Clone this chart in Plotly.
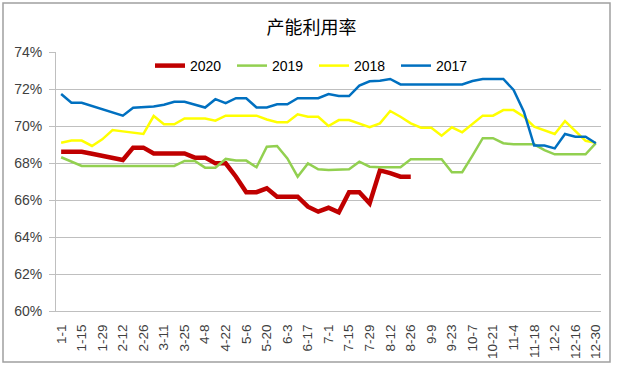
import plotly.graph_objects as go

dates = ["1-1", "1-8", "1-15", "1-22", "1-29", "2-5", "2-12", "2-19", "2-26", "3-4",
         "3-11", "3-18", "3-25", "4-1", "4-8", "4-15", "4-22", "4-29", "5-6", "5-13",
         "5-20", "5-27", "6-3", "6-10", "6-17", "6-24", "7-1", "7-8", "7-15", "7-22",
         "7-29", "8-5", "8-12", "8-19", "8-26", "9-2", "9-9", "9-16", "9-23", "9-30",
         "10-7", "10-14", "10-21", "10-28", "11-4", "11-11", "11-18", "11-25", "12-2", "12-9",
         "12-16", "12-23", "12-30"]

y2020 = [68.61, 68.61, 68.61, 68.50, 68.39, 68.27, 68.16, 68.83, 68.83, 68.52,
         68.52, 68.52, 68.52, 68.29, 68.29, 67.98, 67.98, 67.26, 66.42, 66.42,
         66.63, 66.18, 66.18, 66.18, 65.64, 65.37, 65.58, 65.33, 66.42, 66.42,
         65.82, 67.60, 67.45, 67.26, 67.26] + [None] * 18

y2019 = [68.31, 68.07, 67.84, 67.84, 67.84, 67.84, 67.84, 67.84, 67.84, 67.84,
         67.84, 67.84, 68.11, 68.11, 67.75, 67.75, 68.22, 68.13, 68.13, 67.77,
         68.88, 68.92, 68.25, 67.26, 67.98, 67.66, 67.62, 67.62, 67.66, 68.07,
         67.80, 67.77, 67.77, 67.77, 68.20, 68.20, 68.20, 68.20, 67.50, 67.50,
         68.40, 69.34, 69.34, 69.07, 69.01, 69.01, 69.01, 68.70, 68.47, 68.47,
         68.47, 68.47, 69.07]

y2018 = [69.10, 69.21, 69.21, 68.92, 69.28, 69.78, 69.71, 69.64, 69.57, 70.54,
         70.09, 70.09, 70.41, 70.41, 70.41, 70.29, 70.56, 70.56, 70.56, 70.56,
         70.35, 70.20, 70.20, 70.63, 70.50, 70.50, 70.00, 70.32, 70.32, 70.14,
         69.93, 70.14, 70.81, 70.50, 70.14, 69.91, 69.91, 69.48, 69.93, 69.66,
         70.10, 70.56, 70.56, 70.86, 70.86, 70.50, 69.96, 69.75, 69.57, 70.27,
         69.73, 69.20, 69.10]

y2017 = [71.73, 71.26, 71.26, 71.09, 70.92, 70.74, 70.56, 70.99, 71.02, 71.05,
         71.15, 71.31, 71.31, 71.15, 71.00, 71.45, 71.23, 71.50, 71.50, 71.00,
         71.00, 71.17, 71.17, 71.50, 71.50, 71.50, 71.73, 71.62, 71.62, 72.18,
         72.42, 72.45, 72.54, 72.25, 72.25, 72.25, 72.25, 72.25, 72.25, 72.25,
         72.43, 72.54, 72.54, 72.54, 71.95, 70.77, 68.94, 68.94, 68.79, 69.57,
         69.42, 69.42, 69.07]

tick_labels = dates[::2]
y_ticks = [60, 62, 64, 66, 68, 70, 72, 74]
y_tick_text = ["60%", "62%", "64%", "66%", "68%", "70%", "72%", "74%"]

series = [("2020", y2020, "#C00000", 4.5),
          ("2019", y2019, "#92D050", 2.5),
          ("2018", y2018, "#FFFF00", 2.5),
          ("2017", y2017, "#0070C0", 2.5)]

fig = go.Figure()
for name, vals, color, w in series:
    fig.add_trace(go.Scatter(x=dates, y=vals, name=name, mode="lines",
                             line=dict(color=color, width=w),
                             connectgaps=False))

W, H = 623, 375
L, R, T, B = 56, 22, 52, 64
pw, ph = W - L - R, H - T - B

def px_x(x):
    return (x - L) / pw

def px_y(y):
    return (H - B - y) / ph

fig.update_layout(
    width=W, height=H,
    margin=dict(l=L, r=R, t=T, b=B),
    paper_bgcolor="white", plot_bgcolor="white",
    font=dict(family="Liberation Sans, Arial, sans-serif", size=11, color="#404040"),
    title=dict(text="产能利用率", x=0.5, xanchor="center", y=1 - 27.5 / H, yanchor="middle",
               font=dict(family="Noto Sans CJK SC", size=18, color="#000000")),
    showlegend=True,
    legend=dict(orientation="h", x=px_x(150), xanchor="left", y=px_y(66), yanchor="middle",
                font=dict(size=14, color="#000000"), bgcolor="rgba(0,0,0,0)",
                entrywidth=37, entrywidthmode="pixels", tracegroupgap=0),
    xaxis=dict(type="category", categoryorder="array", categoryarray=dates,
               range=[-0.5, len(dates) - 0.5],
               tickmode="array", tickvals=tick_labels, ticktext=tick_labels,
               tickangle=-90, showgrid=False, showline=True, linecolor="#BFBFBF",
               linewidth=1, ticks="", ticklabelstandoff=7,
               tickfont=dict(size=13.5, color="#404040"), zeroline=False),
    yaxis=dict(range=[60, 74], tickmode="array", tickvals=y_ticks, ticktext=y_tick_text,
               showgrid=True, gridcolor="#BFBFBF", gridwidth=1,
               showline=True, linecolor="#BFBFBF", linewidth=1,
               ticks="outside", ticklen=6, tickcolor="#BFBFBF", ticklabelstandoff=4,
               tickfont=dict(size=14, color="#404040"), zeroline=False),
    shapes=[dict(type="rect", xref="paper", yref="paper",
                 x0=px_x(3), x1=px_x(610), y0=px_y(362), y1=px_y(3),
                 line=dict(color="#A0A0A0", width=1.5), fillcolor="rgba(0,0,0,0)", layer="below")],
)

fig.write_html("out.html", config={"displayModeBar": False},
               post_script="document.body.style.margin='0';")
